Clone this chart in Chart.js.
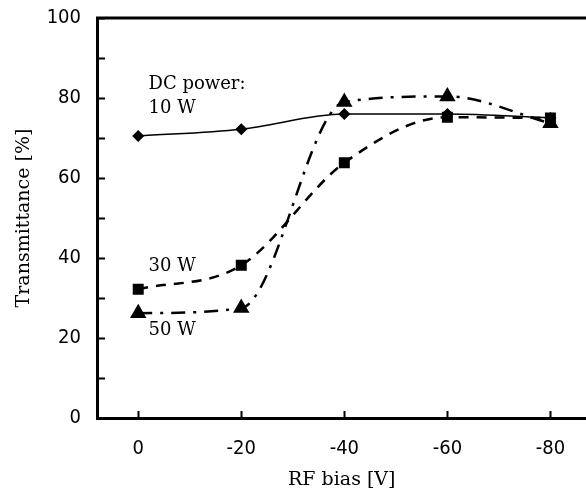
<!DOCTYPE html>
<html>
<head>
<meta charset="utf-8">
<script src="https://cdn.jsdelivr.net/npm/chart.js@4.4.1/dist/chart.umd.min.js"></script>
<style>
  html, body { margin: 0; padding: 0; background: #fff; overflow: hidden; }
  #wrap { width: 586px; height: 491px; overflow: hidden; }
</style>
</head>
<body>
<div id="wrap"><canvas id="chart" width="596" height="491"></canvas></div>
<script>
// RF bias values (V)
const biasValues = [0, -20, -40, -60, -80];
// Transmittance (%) per DC power
const power10W = [70.5, 72.2, 76.0, 76.0, 75.0];
const power30W = [32.2, 38.2, 63.8, 75.2, 75.0];
const power50W = [26.2, 27.5, 79.0, 80.4, 73.7];

const xTickValues = [0, -20, -40, -60, -80];
const yMinorStep = 10;

// text labels placed in data coordinates
const labelNotes = [
    { text: 'DC power:', x: -2, y: 83.5 },
    { text: '10 W', x: -2, y: 77.5 },
    { text: '30 W', x: -2, y: 37.8 },
    { text: '50 W', x: -2, y: 22 }
];

const serif = '"DejaVu Serif", "Liberation Serif", serif';
const narrow = '"Liberation Sans Narrow", "DejaVu Sans Condensed", "Liberation Sans", sans-serif';

const toPoints = (ys) => biasValues.map((x, i) => ({ x, y: ys[i] }));

// inward ticks, top frame line and in-plot labels
const framePlugin = {
    id: 'frame',
    afterDraw(chart) {
        const { ctx, chartArea, scales } = chart;
        const xs = scales.x, ys = scales.y;
        ctx.save();
        ctx.strokeStyle = '#000';
        ctx.lineWidth = 2;
        for (let v = 0; v <= 100; v += yMinorStep) {
            const py = Math.round(ys.getPixelForValue(v)) + 0.5;
            ctx.beginPath();
            ctx.moveTo(chartArea.left, py);
            ctx.lineTo(chartArea.left + 8, py);
            ctx.stroke();
        }
        xTickValues.forEach(v => {
            const px = Math.round(xs.getPixelForValue(v)) + 0.5;
            ctx.beginPath();
            ctx.moveTo(px, chartArea.bottom);
            ctx.lineTo(px, chartArea.bottom - 7);
            ctx.stroke();
        });
        // top border
        ctx.lineWidth = 3;
        ctx.beginPath();
        ctx.moveTo(chartArea.left - 1, chartArea.top);
        ctx.lineTo(chart.width, chartArea.top);
        ctx.stroke();

        ctx.fillStyle = '#000';
        ctx.font = '18px ' + serif;
        ctx.textBaseline = 'middle';
        ctx.textAlign = 'left';
        labelNotes.forEach(n => {
            ctx.fillText(n.text, xs.getPixelForValue(n.x), ys.getPixelForValue(n.y));
        });
        ctx.restore();
    }
};

const ctx = document.getElementById('chart').getContext('2d');
new Chart(ctx, {
    type: 'line',
    data: {
        datasets: [
            {
                label: '10 W',
                data: toPoints(power10W),
                borderColor: '#000',
                backgroundColor: '#000',
                borderWidth: 1.5,
                pointStyle: 'rectRot',
                pointRadius: 5,
                cubicInterpolationMode: 'monotone',
                fill: false
            },
            {
                label: '30 W',
                data: toPoints(power30W),
                borderColor: '#000',
                backgroundColor: '#000',
                borderWidth: 2.5,
                borderDash: [10, 8],
                pointStyle: 'rect',
                pointRadius: 6,
                cubicInterpolationMode: 'monotone',
                fill: false
            },
            {
                label: '50 W',
                data: toPoints(power50W),
                borderColor: '#000',
                backgroundColor: '#000',
                borderWidth: 2.5,
                borderDash: [14, 8, 3, 8],
                pointStyle: 'triangle',
                pointRadius: 7,
                cubicInterpolationMode: 'monotone',
                fill: false
            }
        ]
    },
    options: {
        responsive: false,
        animation: false,
        layout: { padding: { top: 18, left: 0, right: 0, bottom: 0 } },
        plugins: {
            legend: { display: false },
            tooltip: { enabled: false }
        },
        scales: {
            x: {
                type: 'linear',
                min: -87,
                max: 8,
                reverse: true,
                afterBuildTicks: (scale) => {
                    scale.ticks = xTickValues.map(v => ({ value: v }));
                },
                afterFit: (scale) => {
                    scale.height = 73;
                    scale.paddingLeft = 0;
                    scale.paddingRight = 0;
                },
                grid: { display: false, drawTicks: false },
                border: { color: '#000', width: 3 },
                ticks: {
                    color: '#000',
                    padding: 19,
                    font: { family: narrow, size: 20 },
                    callback: (v) => String(v)
                },
                title: {
                    display: true,
                    text: 'RF bias [V]',
                    color: '#000',
                    font: { family: serif, size: 19 },
                    padding: { top: 0, bottom: 0 }
                }
            },
            y: {
                min: 0,
                max: 100,
                afterFit: (scale) => {
                    scale.width = 97;
                    scale.paddingTop = 0;
                    scale.paddingBottom = 0;
                },
                grid: { display: false, drawTicks: false },
                border: { color: '#000', width: 3 },
                ticks: {
                    color: '#000',
                    stepSize: yMinorStep,
                    padding: 16,
                    font: { family: narrow, size: 20 },
                    callback: (v) => (v % 20 === 0 ? String(v) : '')
                },
                title: {
                    display: true,
                    text: 'Transmittance [%]',
                    color: '#000',
                    font: { family: serif, size: 19 },
                    padding: { top: 13, bottom: 0 }
                }
            }
        }
    },
    plugins: [framePlugin]
});
</script>
</body>
</html>
